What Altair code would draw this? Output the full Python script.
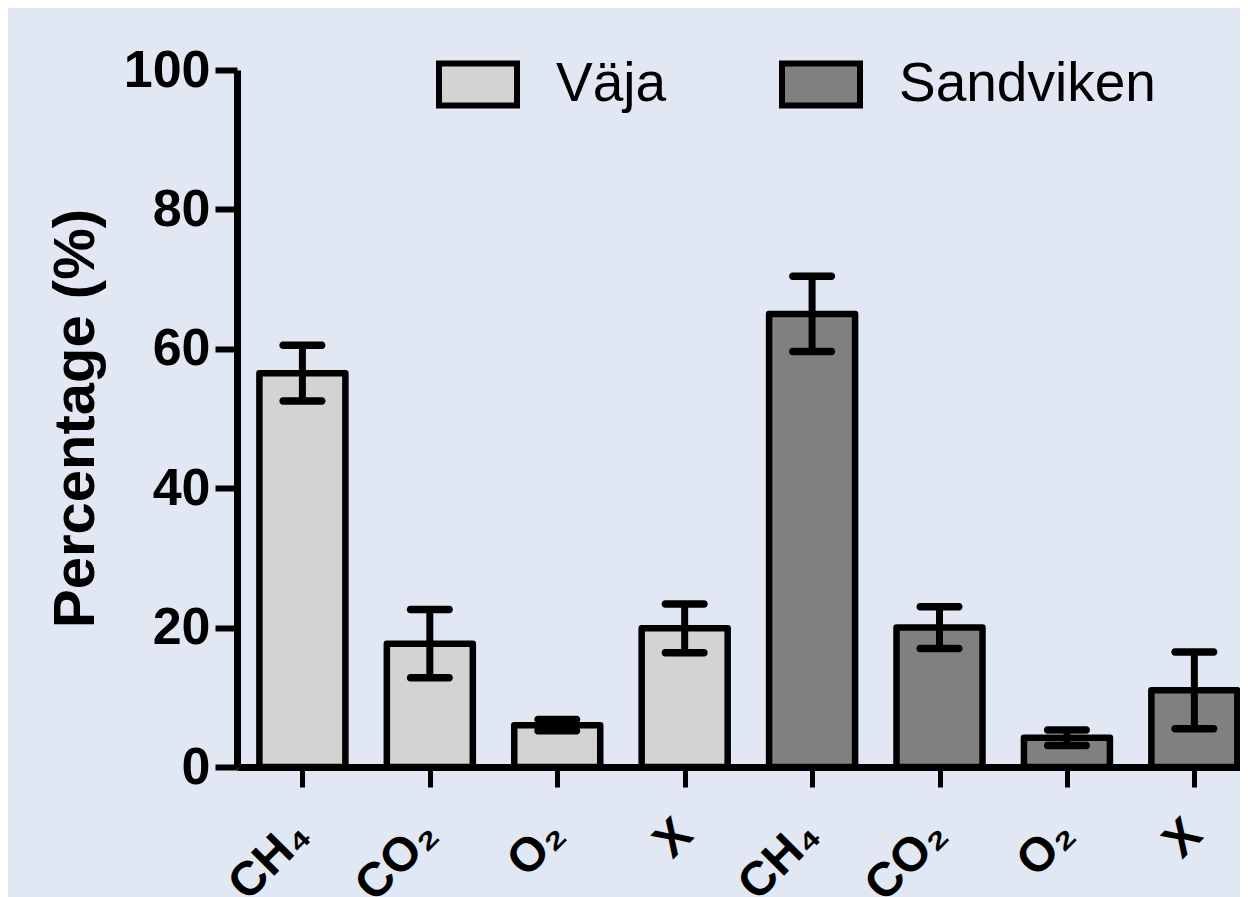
import altair as alt
import pandas as pd

groups = ["Väja", "Väja", "Väja", "Väja", "Sandviken", "Sandviken", "Sandviken", "Sandviken"]
gases = ["CH₄", "CO₂", "O₂", "X", "CH₄", "CO₂", "O₂", "X"]
means = [56.5, 17.7, 6.0, 19.9, 65.0, 20.0, 4.2, 11.0]
errors = [4.0, 4.9, 0.8, 3.5, 5.4, 3.0, 1.1, 5.5]
y_ticks = [0, 20, 40, 60, 80, 100]
legend_order = ["Väja", "Sandviken"]
colors = ["#D3D3D3", "#808080"]

positions = list(range(len(gases)))
df = pd.DataFrame({
    "pos": positions,
    "group": groups,
    "gas": gases,
    "mean": means,
    "low": [m - e for m, e in zip(means, errors)],
    "high": [m + e for m, e in zip(means, errors)],
})

FONT = "Liberation Sans"
label_array = "[" + ",".join("'" + g + "'" for g in gases) + "]"

x_scale = alt.Scale(domain=[-0.474, 7.319], nice=False, zero=False)

xenc = alt.X(
    "pos:Q",
    scale=x_scale,
    axis=alt.Axis(
        title=None,
        values=positions,
        labelExpr=label_array + "[datum.value]",
        labelAngle=315,
        labelAlign="right",
        labelBaseline="middle",
        labelPadding=40,
        labelFontSize=48,
        labelFontWeight="bold",
        labelFont=FONT,
        labelColor="black",
        labelOverlap=False,
        labelBound=False,
        labelFlush=False,
        domainWidth=7,
        domainColor="black",
        tickWidth=5,
        tickSize=20,
        tickColor="black",
        grid=False,
    ),
)

yenc = alt.Y(
    "mean:Q",
    scale=alt.Scale(domain=[0, 100], nice=False, zero=True),
    axis=alt.Axis(
        values=y_ticks,
        title="Percentage (%)",
        titleFontSize=58,
        titleFontWeight="bold",
        titleFont=FONT,
        titleColor="black",
        titleAngle=270,
        titleX=-161,
        titleY=348,
        titleAlign="center",
        titleBaseline="middle",
        labelFontSize=52,
        labelFontWeight="bold",
        labelFont=FONT,
        labelColor="black",
        labelPadding=5,
        domainWidth=7,
        domainColor="black",
        tickWidth=6,
        tickSize=22,
        tickColor="black",
        grid=False,
    ),
)

bars = alt.Chart(df).mark_bar(
    stroke="black", strokeWidth=6.5, strokeJoin="round", size=86, opacity=1
).encode(
    x=xenc,
    y=yenc,
    fill=alt.Fill(
        "group:N",
        scale=alt.Scale(domain=legend_order, range=colors),
        legend=alt.Legend(
            title=None,
            orient="none",
            legendX=199,
            legendY=-28,
            direction="horizontal",
            symbolType="M-1,-0.54L1,-0.54L1,0.54L-1,0.54Z",
            symbolSize=6084,
            symbolStrokeColor="black",
            symbolStrokeWidth=6,
            symbolOpacity=1,
            labelFontSize=55,
            labelFont=FONT,
            labelColor="black",
            labelOffset=36,
            labelLimit=500,
            columnPadding=103,
            padding=0,
        ),
    ),
)

rules = alt.Chart(df).mark_rule(color="black", strokeWidth=7, opacity=1).encode(
    x=alt.X("pos:Q", scale=x_scale),
    y=alt.Y("low:Q"),
    y2="high:Q",
)

cap_low = alt.Chart(df).mark_tick(
    color="black", size=46, thickness=7.5, cornerRadius=3.5, opacity=1, orient="horizontal"
).encode(
    x=alt.X("pos:Q", scale=x_scale),
    y=alt.Y("low:Q"),
)
cap_high = alt.Chart(df).mark_tick(
    color="black", size=46, thickness=7.5, cornerRadius=3.5, opacity=1, orient="horizontal"
).encode(
    x=alt.X("pos:Q", scale=x_scale),
    y=alt.Y("high:Q"),
)

chart = alt.layer(bars, rules, cap_low, cap_high).properties(
    width=1003,
    height=697,
    autosize=alt.AutoSizeParams(type="none"),
    padding={"left": 229, "top": 62, "right": 0, "bottom": 130},
    background="#E1E8F3",
).configure_view(stroke=None)

chart.save("out.html", embed_options={"renderer": "svg", "actions": False})
